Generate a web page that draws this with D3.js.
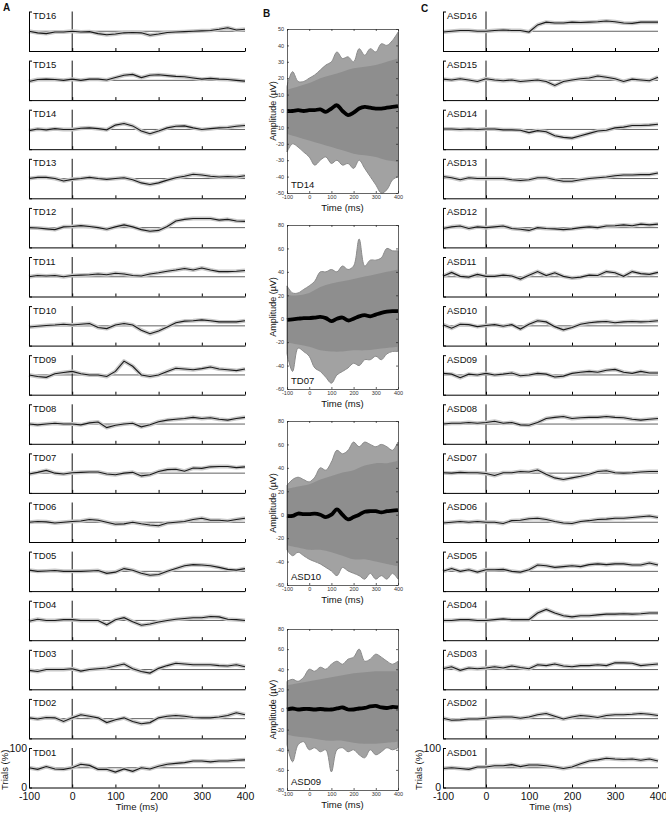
<!DOCTYPE html>
<html>
<head>
<meta charset="utf-8">
<script src="https://cdn.jsdelivr.net/npm/d3@7"></script>
<style>
  body { margin: 0; background: #fff; }
  svg { display: block; font-family: "Liberation Sans", Arial, sans-serif; }
</style>
</head>
<body>
<svg id="chart" width="666" height="813"></svg>
<script>
// ---- data: percent of trials, sampled every 20 ms ----
const trialTimes = [-100, -80, -60, -40, -20, 0, 20, 40, 60, 80, 100, 120, 140, 160, 180, 200, 220, 240, 260, 280, 300, 320, 340, 360, 380, 400];
const timeTicks = [-100, 0, 100, 200, 300, 400];

const TD16 = [50, 46, 44, 48, 48, 50, 48, 49, 44, 41, 43, 46, 47, 46, 40, 43, 47, 48, 49, 50, 51, 52, 55, 59, 53, 55];
const TD15 = [47, 52, 53, 52, 50, 53, 50, 53, 53, 51, 57, 63, 65, 57, 63, 64, 62, 60, 59, 56, 53, 55, 53, 52, 50, 48];
const TD14 = [47, 51, 49, 52, 50, 50, 53, 54, 52, 49, 61, 65, 59, 46, 39, 46, 54, 58, 59, 54, 50, 52, 54, 55, 58, 60];
const TD13 = [50, 53, 53, 50, 44, 48, 50, 53, 50, 48, 50, 52, 47, 39, 35, 39, 46, 52, 56, 61, 59, 56, 54, 55, 54, 57];
const TD12 = [50, 49, 47, 45, 52, 53, 55, 53, 50, 46, 52, 57, 52, 45, 41, 43, 53, 67, 71, 73, 73, 73, 69, 71, 67, 66];
const TD11 = [50, 53, 52, 53, 50, 53, 54, 55, 57, 55, 59, 57, 53, 52, 57, 60, 64, 67, 71, 67, 72, 67, 63, 63, 64, 66];
const TD10 = [47, 49, 51, 52, 54, 52, 54, 56, 46, 43, 52, 56, 52, 39, 30, 37, 47, 58, 62, 63, 65, 63, 60, 60, 60, 63];
const TD09 = [50, 46, 44, 53, 56, 59, 53, 50, 50, 46, 59, 85, 72, 50, 46, 50, 59, 67, 65, 63, 66, 70, 65, 63, 61, 65];
const TD08 = [50, 48, 50, 52, 50, 50, 48, 53, 55, 41, 47, 50, 52, 43, 48, 56, 60, 62, 64, 67, 64, 66, 62, 60, 64, 67];
const TD07 = [48, 52, 57, 50, 48, 51, 52, 53, 53, 48, 46, 50, 52, 43, 46, 54, 59, 60, 55, 63, 62, 66, 67, 67, 64, 66];
const TD06 = [50, 52, 51, 48, 50, 52, 53, 57, 55, 50, 45, 46, 50, 46, 43, 41, 48, 50, 52, 57, 60, 55, 55, 53, 57, 60];
const TD05 = [53, 50, 51, 52, 50, 50, 50, 51, 52, 45, 48, 57, 53, 45, 40, 42, 50, 57, 64, 67, 66, 64, 60, 55, 53, 57];
const TD04 = [48, 53, 50, 50, 52, 52, 50, 50, 50, 39, 52, 57, 47, 38, 41, 46, 50, 53, 55, 57, 57, 60, 59, 53, 52, 50];
const TD03 = [48, 45, 50, 50, 50, 52, 46, 50, 52, 54, 59, 64, 52, 45, 41, 53, 60, 66, 64, 62, 62, 62, 60, 59, 62, 57];
const TD02 = [52, 49, 53, 52, 43, 52, 60, 56, 52, 40, 47, 52, 43, 37, 40, 52, 56, 58, 56, 53, 52, 52, 54, 58, 65, 60];
const TD01 = [50, 46, 53, 47, 46, 50, 59, 56, 46, 46, 39, 47, 41, 50, 47, 54, 59, 61, 63, 67, 67, 65, 67, 67, 69, 70];

const ASD16 = [48, 50, 52, 52, 50, 50, 52, 53, 52, 52, 48, 66, 73, 71, 71, 73, 72, 73, 74, 76, 74, 71, 70, 73, 73, 73];
const ASD15 = [53, 51, 54, 51, 47, 54, 51, 49, 51, 47, 49, 51, 47, 37, 47, 51, 54, 56, 61, 58, 54, 47, 53, 51, 49, 58];
const ASD14 = [51, 51, 50, 51, 50, 51, 51, 49, 49, 48, 42, 47, 44, 34, 30, 28, 34, 40, 46, 48, 54, 56, 60, 60, 61, 63];
const ASD13 = [55, 52, 47, 52, 50, 50, 50, 50, 47, 45, 47, 52, 52, 47, 43, 43, 47, 50, 52, 54, 57, 59, 59, 60, 60, 64];
const ASD12 = [48, 52, 54, 48, 52, 50, 52, 54, 48, 46, 43, 50, 48, 47, 45, 47, 50, 52, 50, 54, 55, 57, 55, 59, 57, 59];
const ASD11 = [51, 61, 51, 49, 56, 51, 51, 54, 52, 44, 54, 63, 53, 60, 51, 47, 49, 54, 53, 63, 60, 51, 63, 58, 56, 61];
const ASD10 = [53, 44, 54, 53, 48, 51, 53, 49, 53, 42, 54, 63, 60, 48, 40, 46, 54, 58, 60, 61, 58, 60, 61, 60, 61, 63];
const ASD09 = [54, 52, 43, 52, 50, 54, 50, 52, 55, 48, 50, 54, 52, 45, 47, 54, 57, 59, 57, 62, 64, 57, 54, 59, 55, 55];
const ASD08 = [50, 52, 52, 54, 52, 54, 57, 52, 54, 48, 47, 54, 64, 67, 69, 64, 66, 67, 67, 69, 67, 66, 62, 60, 62, 64];
const ASD07 = [51, 50, 52, 51, 51, 49, 44, 51, 51, 54, 53, 58, 47, 38, 34, 38, 42, 47, 54, 56, 51, 50, 51, 53, 54, 54];
const ASD06 = [48, 50, 52, 50, 52, 50, 50, 47, 54, 55, 59, 60, 57, 52, 48, 47, 52, 54, 57, 58, 60, 60, 62, 64, 66, 62];
const ASD05 = [50, 57, 50, 54, 48, 54, 54, 55, 50, 48, 54, 66, 64, 60, 62, 64, 62, 67, 69, 67, 69, 69, 66, 66, 71, 66];
const ASD04 = [50, 50, 52, 52, 50, 50, 52, 54, 52, 52, 52, 69, 78, 69, 62, 59, 62, 62, 64, 66, 66, 67, 66, 67, 69, 69];
const ASD03 = [52, 57, 48, 54, 52, 54, 57, 54, 59, 55, 52, 62, 60, 64, 59, 57, 60, 60, 62, 60, 67, 67, 66, 60, 62, 64];
const ASD02 = [51, 46, 47, 49, 49, 51, 53, 54, 54, 51, 54, 60, 63, 56, 49, 54, 58, 56, 53, 58, 60, 60, 61, 63, 61, 58];
const ASD01 = [48, 50, 48, 46, 52, 52, 55, 55, 58, 53, 57, 57, 55, 52, 48, 52, 60, 67, 70, 74, 72, 71, 72, 69, 72, 67];

const tdNames = ["TD16", "TD15", "TD14", "TD13", "TD12", "TD11", "TD10", "TD09", "TD08", "TD07", "TD06", "TD05", "TD04", "TD03", "TD02", "TD01"];
const tdSeries = [TD16, TD15, TD14, TD13, TD12, TD11, TD10, TD09, TD08, TD07, TD06, TD05, TD04, TD03, TD02, TD01];
const asdNames = ["ASD16", "ASD15", "ASD14", "ASD13", "ASD12", "ASD11", "ASD10", "ASD09", "ASD08", "ASD07", "ASD06", "ASD05", "ASD04", "ASD03", "ASD02", "ASD01"];
const asdSeries = [ASD16, ASD15, ASD14, ASD13, ASD12, ASD11, ASD10, ASD09, ASD08, ASD07, ASD06, ASD05, ASD04, ASD03, ASD02, ASD01];

// ---- data: single-trial amplitudes (µV), panel B ----
const ampTimes = [-100, -75, -50, -25, 0, 25, 50, 75, 100, 125, 150, 175, 200, 225, 250, 275, 300, 325, 350, 375, 400];
const bandTimes = [-100, -50, 0, 50, 100, 150, 200, 250, 300, 350, 400];
const ampNames = ["TD14", "TD07", "ASD10", "ASD09"];

const td14Mean = [0, 0, 0.5, 0, 0.5, 0.5, 1, -0.5, 1.5, 3.5, 0, -2.5, -1, 1.5, 2.5, 2, 1.5, 1.5, 2, 2.5, 3];
const td14Max = [15, 24, 18, 18, 20, 22, 25, 28, 30, 36, 32, 33, 30, 38, 34, 38, 36, 41, 40, 43, 48];
const td14Min = [-25, -20, -22, -25, -28, -33, -30, -28, -32, -30, -33, -32, -35, -30, -35, -40, -45, -50, -48, -42, -40];
const td14Hi = [13, 15, 17, 20, 22, 24, 26, 27, 28, 30, 32];
const td14Lo = [-14, -16, -18, -20, -22, -24, -26, -27, -28, -30, -31];

const td07Mean = [-1, -0.5, 0, 0.5, 0.5, 1, 1.5, 0.5, -2, 0, 1, -1.5, 0, 2, 3, 2, 3.5, 5, 6, 6.5, 6.5];
const td07Max = [28, 22, 22, 25, 28, 32, 40, 40, 42, 40, 45, 42, 45, 68, 45, 50, 50, 52, 60, 58, 58];
const td07Min = [-30, -45, -25, -28, -32, -42, -45, -50, -55, -48, -45, -42, -38, -40, -35, -35, -32, -35, -30, -28, -28];
const td07Hi = [20, 20, 22, 27, 30, 32, 34, 36, 38, 40, 42];
const td07Lo = [-20, -22, -24, -27, -28, -28, -27, -27, -26, -25, -24];

const asd10Mean = [-1, -1, 1, 0.5, 0.5, 1, 0, -2, 0, 4.5, 0, -4, -2, 0, 2.5, 3, 3, 2, 3, 3.5, 4];
const asd10Max = [25, 30, 32, 30, 28, 32, 40, 38, 45, 55, 52, 55, 62, 58, 62, 60, 58, 60, 58, 55, 62];
const asd10Min = [-30, -35, -32, -35, -38, -40, -42, -45, -48, -52, -45, -48, -50, -52, -55, -50, -55, -52, -55, -50, -55];
const asd10Hi = [22, 24, 26, 30, 33, 36, 38, 42, 44, 44, 46];
const asd10Lo = [-26, -28, -30, -30, -32, -35, -38, -38, -40, -42, -44];

const asd09Mean = [0, 1, 0, 0.5, 0.5, 0, 0.5, 0, 0, 1, 2, 0, 0, 1, 1.5, 3, 3.5, 2, 1.5, 2.5, 2];
const asd09Max = [28, 30, 28, 32, 40, 38, 42, 40, 45, 48, 45, 50, 52, 60, 48, 50, 55, 52, 48, 45, 48];
const asd09Min = [-35, -52, -35, -32, -40, -38, -42, -40, -62, -40, -38, -42, -40, -45, -48, -40, -45, -42, -38, -40, -38];
const asd09Hi = [24, 26, 28, 30, 32, 34, 36, 37, 38, 38, 38];
const asd09Lo = [-25, -27, -28, -30, -31, -31, -33, -34, -34, -33, -32];

const ampDomains = [[-50, 50], [-60, 80], [-60, 80], [-80, 80]];
const ampTickSteps = [10, 20, 20, 20];

// ---- drawing ----
const svg = d3.select("#chart");
const label = d => String(d);

const rowTop = 11.5, rowStep = 49.1, rowHeight = 39.5;

function drawColumn(names, series, left, right) {
    const x = d3.scaleLinear().domain([-100, 400]).range([left, right]);

    names.forEach((name, i) => {
        const top = rowTop + i * rowStep;
        const bottom = top + rowHeight;
        const last = i === names.length - 1;
        const y = d3.scaleLinear().domain([0, 100]).range([bottom, top]);
        const g = svg.append("g");

        g.append("line")
            .attr("x1", x(-100)).attr("x2", x(400))
            .attr("y1", y(50)).attr("y2", y(50))
            .attr("stroke", "#3a3a3a").attr("stroke-width", 0.8);

        g.append("line")
            .attr("x1", x(0)).attr("x2", x(0))
            .attr("y1", top).attr("y2", bottom)
            .attr("stroke", "#111").attr("stroke-width", 1);

        const line = d3.line()
            .x((d, j) => x(trialTimes[j]))
            .y(d => y(d));

        g.append("path").datum(series[i])
            .attr("d", line)
            .attr("fill", "none")
            .attr("stroke", "#c8c8c8")
            .attr("stroke-width", 4)
            .attr("stroke-linejoin", "round");

        g.append("path").datum(series[i])
            .attr("d", line)
            .attr("fill", "none")
            .attr("stroke", "#1a1a1a")
            .attr("stroke-width", 1.1);

        const xAxis = d3.axisBottom(x)
            .tickValues(timeTicks)
            .tickSizeInner(-3).tickSizeOuter(0).tickPadding(5.5)
            .tickFormat(last ? label : () => "");

        g.append("g")
            .attr("transform", `translate(0,${bottom})`)
            .call(xAxis)
            .attr("font-family", null).attr("font-size", 10.5)
            .call(a => a.selectAll("text").attr("fill", "#111"));

        const yAxis = d3.axisLeft(y)
            .tickValues([0, 100])
            .tickSizeInner(-3).tickSizeOuter(0).tickPadding(2)
            .tickFormat(last ? label : () => "");

        g.append("g")
            .attr("transform", `translate(${left},0)`)
            .call(yAxis)
            .attr("font-family", null).attr("font-size", 10.5)
            .call(a => a.selectAll("text").attr("fill", "#111"));

        g.append("text")
            .attr("x", left + 4).attr("y", top + 7.5)
            .attr("font-size", 9.5).attr("fill", "#111")
            .text(name);

        if (last) {
            g.append("text")
                .attr("x", x(150)).attr("y", bottom + 22)
                .attr("text-anchor", "middle")
                .attr("font-size", 9.5).attr("fill", "#111")
                .text("Time (ms)");

            g.append("text")
                .attr("transform", `translate(${left - 21},${(top + bottom) / 2 + 2}) rotate(-90)`)
                .attr("text-anchor", "middle")
                .attr("font-size", 9.5).attr("fill", "#111")
                .text("Trials (%)");
        }
    });
}

drawColumn(tdNames, tdSeries, 29, 245);
drawColumn(asdNames, asdSeries, 443, 658);

// panel B
const bLeft = 287, bRight = 398;
const bTops = [29, 225, 421, 629];
const bBottoms = [193, 389, 585, 790];
const ampMeans = [td14Mean, td07Mean, asd10Mean, asd09Mean];
const ampMaxes = [td14Max, td07Max, asd10Max, asd09Max];
const ampMins = [td14Min, td07Min, asd10Min, asd09Min];
const ampHis = [td14Hi, td07Hi, asd10Hi, asd09Hi];
const ampLos = [td14Lo, td07Lo, asd10Lo, asd09Lo];

ampNames.forEach((name, k) => {
    const top = bTops[k], bottom = bBottoms[k];
    const x = d3.scaleLinear().domain([-100, 400]).range([bLeft, bRight]);
    const y = d3.scaleLinear().domain(ampDomains[k]).range([bottom, top]);
    const g = svg.append("g");

    const outer = d3.area()
        .x((d, j) => x(ampTimes[j]))
        .y0((d, j) => y(ampMins[k][j]))
        .y1(d => y(d))
        .curve(d3.curveCatmullRom);
    g.append("path").datum(ampMaxes[k])
        .attr("d", outer)
        .attr("fill", "#a2a2a2")
        .attr("stroke", "#8a8a8a").attr("stroke-width", 1);

    const band = d3.area()
        .x((d, j) => x(bandTimes[j]))
        .y0((d, j) => y(ampLos[k][j]))
        .y1(d => y(d))
        .curve(d3.curveCatmullRom);
    g.append("path").datum(ampHis[k])
        .attr("d", band)
        .attr("fill", "#8e8e8e");

    const meanLine = d3.line()
        .x((d, j) => x(ampTimes[j]))
        .y(d => y(d))
        .curve(d3.curveCatmullRom);
    g.append("path").datum(ampMeans[k])
        .attr("d", meanLine)
        .attr("fill", "none")
        .attr("stroke", "#000")
        .attr("stroke-width", 3.8);

    const [lo, hi] = ampDomains[k];
    const yTicks = d3.range(lo, hi + 1, ampTickSteps[k]);

    const styleAxis = a => {
        a.attr("font-family", null).attr("font-size", 5.5);
        a.selectAll("text").attr("fill", "#333");
        a.selectAll("line, path").attr("stroke", "#222").attr("stroke-width", 0.7);
    };

    g.append("g").attr("transform", `translate(0,${bottom})`)
        .call(d3.axisBottom(x).tickValues(timeTicks).tickSizeInner(-2).tickSizeOuter(0).tickPadding(2.5).tickFormat(label))
        .call(styleAxis);
    g.append("g").attr("transform", `translate(0,${top})`)
        .call(d3.axisTop(x).tickValues(timeTicks).tickSizeInner(-2).tickSizeOuter(0).tickFormat(() => ""))
        .call(styleAxis);
    g.append("g").attr("transform", `translate(${bLeft},0)`)
        .call(d3.axisLeft(y).tickValues(yTicks).tickSizeInner(-2).tickSizeOuter(0).tickPadding(3).tickFormat(label))
        .call(styleAxis);
    g.append("g").attr("transform", `translate(${bRight},0)`)
        .call(d3.axisRight(y).tickValues(yTicks).tickSizeInner(-2).tickSizeOuter(0).tickFormat(() => ""))
        .call(styleAxis);

    g.append("text")
        .attr("x", bLeft + 4).attr("y", bottom - 5)
        .attr("font-size", 9.5).attr("fill", "#111")
        .text(name);

    g.append("text")
        .attr("x", x(150)).attr("y", bottom + 18)
        .attr("text-anchor", "middle")
        .attr("font-size", 9.5).attr("fill", "#111")
        .text("Time (ms)");

    g.append("text")
        .attr("transform", `translate(276,${(top + bottom) / 2}) rotate(-90)`)
        .attr("text-anchor", "middle")
        .attr("font-size", 9).attr("fill", "#111")
        .text("Amplitude (µV)");
});

// panel letters
[["A", 3, 11], ["B", 263, 17], ["C", 421, 12]].forEach(([t, px, py]) => {
    svg.append("text")
        .attr("x", px).attr("y", py)
        .attr("font-size", 10).attr("font-weight", "bold").attr("fill", "#111")
        .text(t);
});
</script>
</body>
</html>
